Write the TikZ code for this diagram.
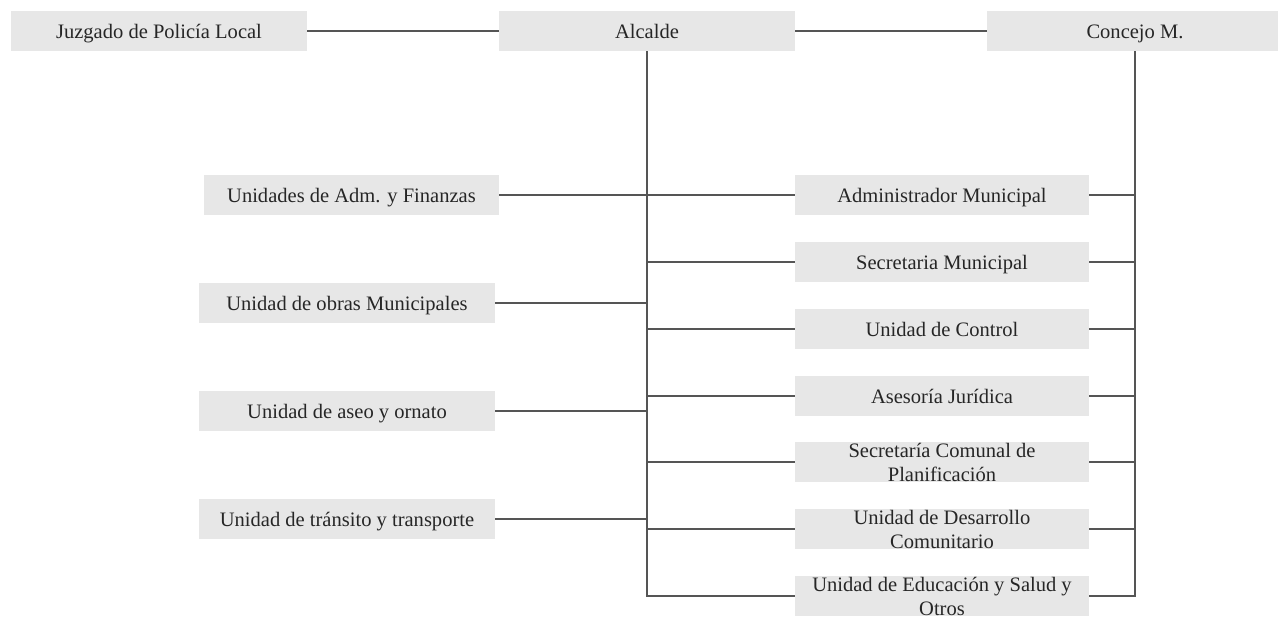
\documentclass[tikz,border=0pt]{standalone}
\usepackage{fontspec}
\setmainfont{Liberation Serif}
\usepackage{xcolor}
\usepackage{tikz}
\usetikzlibrary{positioning,calc}
\definecolor{ink}{RGB}{38,38,38}
\definecolor{boxfill}{RGB}{231,231,231}
\definecolor{wire}{RGB}{85,85,85}

\begin{document}
\begin{tikzpicture}[
    x=0.75pt,y=-0.75pt,
    font=\fontsize{15.4}{18}\selectfont,
    unit/.style={fill=boxfill,minimum width=#1*0.75pt,minimum height=30pt,
      inner sep=0pt,text=ink,text height=14pt,text depth=3.5pt},
    unit/.default=296,
    caption/.style={align=center,inner sep=0pt,text=ink},
    wire/.style={draw=wire,line width=0.8pt},
  ]

  \useasboundingbox (0,0) rectangle (1278,618);

  \def\topy{31}
  \def\lx{347}
  \def\rx{942}

  % top row
  \node[unit] (juz) at (159,\topy) {Juzgado de Policía Local};
  \node[unit] (alc) at (647,\topy) {Alcalde};
  \node[unit] (con) at (1135,\topy) {Concejo M.};

  % left column
  \node[unit=295] (ladm) at (351.5,195) {Unidades de Adm. y Finanzas};
  \foreach \n/\y/\txt in {lobr/303/{Unidad de obras Municipales},
                          lase/411/{Unidad de aseo y ornato},
                          ltra/519/{Unidad de tránsito y transporte}} {
    \node[unit] (\n) at (\lx,\y) {\txt};
  }

  % right column
  \foreach \n/\y/\txt in {radm/195/{Administrador Municipal},
                          rsec/262/{Secretaria Municipal},
                          rcon/329/{Unidad de Control},
                          rase/396/{Asesoría Jurídica}} {
    \node[unit=294] (\n) at (\rx,\y) {\txt};
  }
  \foreach \n/\y/\txt in {rpla/462/{Secretaría Comunal de\\Planificación},
                          rdes/529/{Unidad de Desarrollo\\Comunitario},
                          redu/596/{Unidad de Educación y Salud y\\Otros}} {
    \node[unit=294] (\n) at (\rx,\y) {};
    \node[caption] (\n-t) at (\n.center) {\txt};
  }

  % connectors
  \draw[wire] (juz) -- (alc);
  \draw[wire] (alc) -- (con);
  \draw[wire] (alc.south) |- (redu.west);
  \draw[wire] (con.south) |- (redu.east);
  \foreach \n in {radm,rsec,rcon,rase,rpla,rdes} {
    \draw[wire] (alc.south |- \n.west) -- (\n.west);
    \draw[wire] (con.south |- \n.east) -- (\n.east);
  }
  \foreach \n in {ladm,lobr,lase,ltra} {
    \draw[wire] (\n.east) -- (alc.south |- \n.east);
  }

\end{tikzpicture}
\end{document}
